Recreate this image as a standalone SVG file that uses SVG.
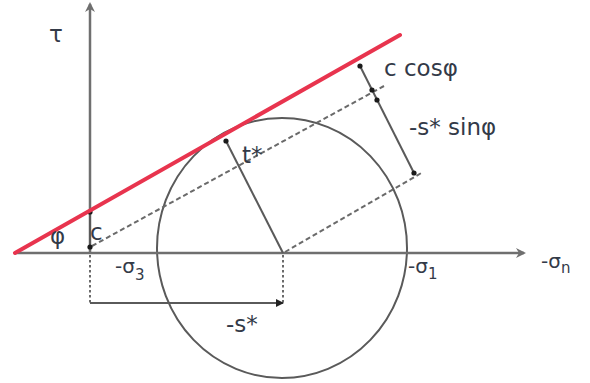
<svg xmlns="http://www.w3.org/2000/svg" width="590" height="383" viewBox="0 0 590 383">
  <style>
    .axis { stroke: #6f6f6f; stroke-width: 2.5; fill: none; }
    .thin { stroke: #5a5a5a; stroke-width: 2; fill: none; }
    .dash { stroke: #6a6a6a; stroke-width: 2; fill: none; stroke-dasharray: 5 3; }
    .dot { stroke: #6a6a6a; stroke-width: 2; fill: none; stroke-dasharray: 2.5 2.5; }
    .red { stroke: #e8344e; stroke-width: 4; fill: none; stroke-linecap: round; }
    text { font-family: "DejaVu Sans", Verdana, sans-serif; fill: #333a48; font-size: 23px; }
    .sig { font-size: 20px; }
    .sub { font-size: 15px; }
  </style>
  <defs>
    <marker id="axhead" markerWidth="10" markerHeight="10" refX="8" refY="5" orient="auto" markerUnits="userSpaceOnUse">
      <path d="M0,0 L10,5 L0,10 L3,5 Z" fill="#6f6f6f"/>
    </marker>
    <marker id="blk" markerWidth="8" markerHeight="8" refX="7" refY="4" orient="auto" markerUnits="userSpaceOnUse">
      <path d="M0,0 L8,4 L0,8 Z" fill="#222"/>
    </marker>
    <marker id="dotm" markerWidth="6" markerHeight="6" refX="3" refY="3" markerUnits="userSpaceOnUse">
      <circle cx="3" cy="3" r="2.6" fill="#1a1a1a"/>
    </marker>
  </defs>

  <g id="circle">
    <ellipse cx="282" cy="248" rx="125" ry="130" class="thin" stroke="#707070"/>
  </g>

  <g id="axes">
    <line x1="15" y1="253" x2="524" y2="253" class="axis" marker-end="url(#axhead)"/>
    <line x1="90" y1="253" x2="90" y2="4" class="axis" marker-end="url(#axhead)"/>
  </g>

  <g id="connectors">
    <line x1="92" y1="246" x2="384" y2="86" class="dash"/>
    <line x1="285" y1="252" x2="423" y2="172" class="dash"/>
    <line x1="90" y1="255" x2="90" y2="303" class="dot"/>
    <line x1="283" y1="255" x2="283" y2="303" class="dot"/>
    <line x1="90" y1="303" x2="283" y2="303" class="thin" marker-end="url(#blk)"/>
    <line x1="283" y1="253" x2="226" y2="141" class="thin" marker-end="url(#dotm)"/>
    <line x1="90" y1="247" x2="90" y2="212" class="thin" marker-start="url(#dotm)" marker-end="url(#dotm)"/>
    <line x1="360" y1="66" x2="414" y2="173" class="thin"/>
    <circle cx="360" cy="66" r="2.6" fill="#1a1a1a"/>
    <circle cx="372" cy="90" r="2.6" fill="#1a1a1a"/>
    <circle cx="377" cy="100" r="2.6" fill="#1a1a1a"/>
    <circle cx="414" cy="173" r="2.6" fill="#1a1a1a"/>
  </g>

  <g id="envelope">
    <line x1="15" y1="253" x2="400" y2="35" class="red"/>
  </g>

  <g id="labels">
    <text x="49" y="42">τ</text>
    <text x="384" y="76">c cosφ</text>
    <text x="409" y="135">-s* sinφ</text>
    <text x="242" y="163">t*</text>
    <text x="90" y="240">c</text>
    <text x="50" y="244">φ</text>
    <text x="115" y="273" class="sig">-σ<tspan class="sub" dy="7">3</tspan></text>
    <text x="408" y="273" class="sig">-σ<tspan class="sub" dy="6">1</tspan></text>
    <text x="541" y="268" class="sig">-σ<tspan class="sub" dy="5">n</tspan></text>
    <text x="226" y="332">-s*</text>
  </g>
</svg>
